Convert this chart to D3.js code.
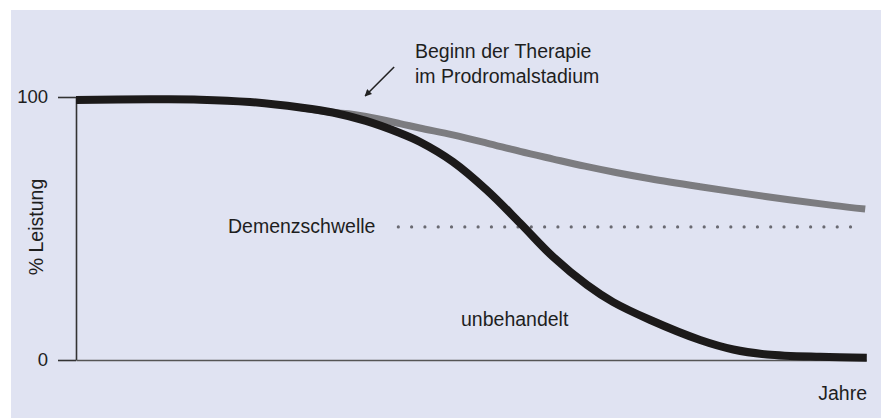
<!DOCTYPE html>
<html>
<head>
<meta charset="utf-8">
<script src="https://cdn.jsdelivr.net/npm/d3@7"></script>
<style>
  html, body { margin: 0; padding: 0; background: #ffffff; }
  svg { display: block; }
  text { font-family: "Liberation Sans", Arial, Helvetica, sans-serif; fill: #1e1e1e; }
</style>
</head>
<body>
<svg id="chart" width="890" height="418"></svg>
<script>
// ---- data (years in relative units 0..100, performance in %) ----
const untreatedYears = [0, 9.4, 15.7, 22.0, 28.4, 32.5, 36.7, 41.0, 43.5, 47.7, 52.0, 56.2, 60.4, 64.7, 68.0, 72.7, 79.0, 83.2, 87.5, 94.2, 100.1];
const untreatedValues = [98.9, 99.1, 99.0, 98.1, 96.0, 94.1, 90.9, 86.3, 83.0, 75.4, 64.6, 52.1, 39.2, 28.5, 22.0, 15.2, 7.6, 4.0, 2.1, 1.2, 0.9];

const treatedYears = [28.4, 32.5, 34.5, 36.7, 41.0, 43.5, 47.7, 52.0, 56.2, 60.4, 64.4, 68.5, 72.7, 79.0, 87.5, 95.8, 99.9];
const treatedValues = [96.0, 94.1, 93.6, 92.6, 89.9, 88.2, 85.6, 82.5, 79.3, 76.4, 73.7, 71.2, 68.9, 65.9, 62.1, 58.8, 57.4];

const thresholdValue = 50.6;
const thresholdYears = [40.8, 99.5];

const yTickValues = [0, 100];
const yTickLabels = ["0", "100"];

const labelThreshold = "Demenzschwelle";
const labelUntreated = "unbehandelt";
const labelTherapy = ["Beginn der Therapie", "im Prodromalstadium"];
const labelY = "% Leistung";
const labelX = "Jahre";

// ---- layout ----
const svg = d3.select("#chart");
svg.append("rect").attr("x", 11).attr("y", 10).attr("width", 870).attr("height", 408).attr("fill", "#e0e3f2");

const x = d3.scaleLinear().domain([0, 100]).range([76, 866]);
const y = d3.scaleLinear().domain([0, 100]).range([360, 97]);

const fs = "19.5px";

// axes
const yAxis = d3.axisLeft(y)
  .tickValues(yTickValues)
  .tickFormat((d, i) => yTickLabels[i])
  .tickSize(18)
  .tickSizeOuter(0)
  .tickPadding(10);
const gy = svg.append("g").attr("transform", `translate(${x(0)},0)`).call(yAxis);
gy.select(".domain").attr("stroke", "#333").attr("stroke-width", 1.6);
gy.selectAll(".tick line").attr("stroke", "#333").attr("stroke-width", 1.6);
gy.selectAll(".tick text").style("font-size", "18.5px").style("font-family", "Liberation Sans, Arial, sans-serif").attr("fill", "#1e1e1e");

const xAxis = d3.axisBottom(x).tickValues([]).tickSizeOuter(0);
const gx = svg.append("g").attr("transform", `translate(0,${y(0)})`).call(xAxis);
gx.select(".domain").attr("stroke", "#555").attr("stroke-width", 1.4);

// threshold dotted line
svg.append("line")
  .attr("x1", x(thresholdYears[0])).attr("x2", x(thresholdYears[1]))
  .attr("y1", y(thresholdValue)).attr("y2", y(thresholdValue))
  .attr("stroke", "#6a6a72").attr("stroke-width", 3.2)
  .attr("stroke-linecap", "round")
  .attr("stroke-dasharray", "0 13.3");

// curves
const line = d3.line().x(d => x(d[0])).y(d => y(d[1])).curve(d3.curveCatmullRom.alpha(0.5));

svg.append("path")
  .datum(treatedYears.map((t, i) => [t, treatedValues[i]]))
  .attr("d", line)
  .attr("fill", "none")
  .attr("stroke", "#7c7c80")
  .attr("stroke-width", 7);

svg.append("path")
  .datum(untreatedYears.map((t, i) => [t, untreatedValues[i]]))
  .attr("d", line)
  .attr("fill", "none")
  .attr("stroke", "#1c1a1a")
  .attr("stroke-width", 8);

// labels
svg.append("text").attr("x", 228).attr("y", y(thresholdValue) + 6.5)
  .style("font-size", fs).text(labelThreshold);

svg.append("text").attr("x", 461).attr("y", 326)
  .style("font-size", fs).text(labelUntreated);

svg.append("text").attr("x", 415).attr("y", 58)
  .style("font-size", fs).text(labelTherapy[0]);
svg.append("text").attr("x", 415).attr("y", 83)
  .style("font-size", fs).text(labelTherapy[1]);

svg.append("text")
  .attr("transform", `translate(43,227) rotate(-90)`)
  .attr("text-anchor", "middle")
  .style("font-size", fs).text(labelY);

svg.append("text").attr("x", 867).attr("y", 400)
  .attr("text-anchor", "end")
  .style("font-size", fs).text(labelX);

// arrow
const defs = svg.append("defs");
defs.append("marker")
  .attr("id", "arrowhead")
  .attr("viewBox", "0 0 10 10")
  .attr("refX", 9).attr("refY", 5)
  .attr("markerWidth", 7).attr("markerHeight", 7)
  .attr("markerUnits", "userSpaceOnUse")
  .attr("orient", "auto")
  .append("path").attr("d", "M0,0 L10,5 L0,10 Z").attr("fill", "#222");

const tipX = x(36.6), tipY = y(100.4);
svg.append("line")
  .attr("x1", tipX + 29).attr("y1", tipY - 29)
  .attr("x2", tipX).attr("y2", tipY)
  .attr("stroke", "#222").attr("stroke-width", 1.6)
  .attr("marker-end", "url(#arrowhead)");
</script>
</body>
</html>
